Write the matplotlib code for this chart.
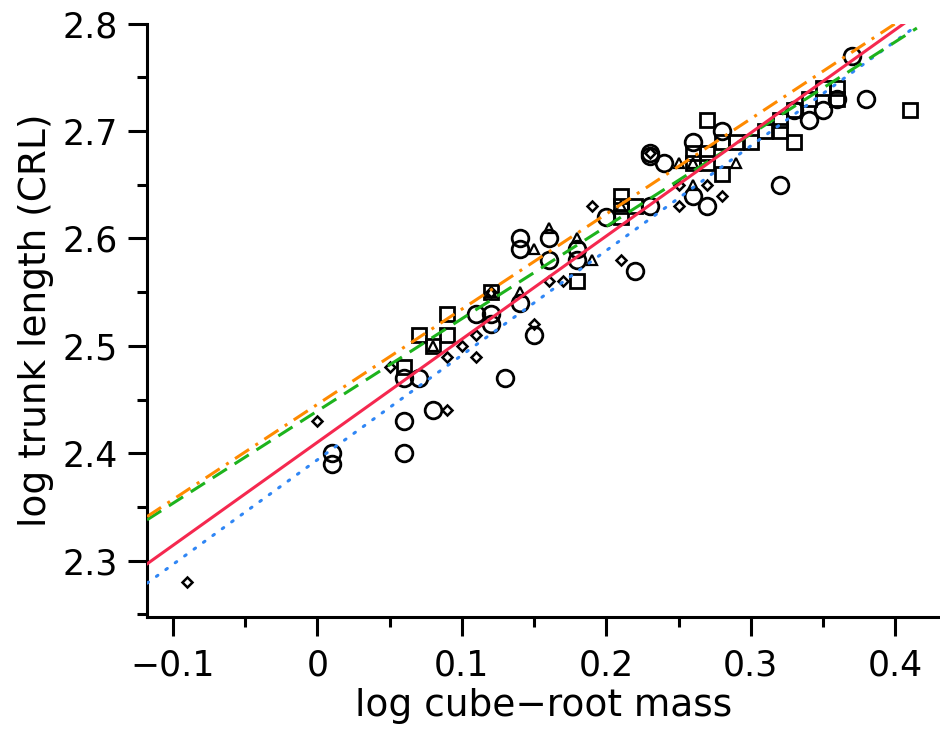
import matplotlib
matplotlib.use("Agg")
import matplotlib.pyplot as plt
import numpy as np
from matplotlib.ticker import MultipleLocator

# ---- data ----
circle_x = [0.01, 0.01, 0.06, 0.06, 0.06, 0.07, 0.08, 0.11, 0.12, 0.12, 0.13, 0.14, 0.15,
            0.14, 0.14, 0.16, 0.16, 0.18, 0.18, 0.20, 0.22, 0.23, 0.23, 0.23, 0.24, 0.26,
            0.26, 0.27, 0.28, 0.32, 0.34, 0.35, 0.36, 0.37, 0.38, 0.33]
circle_y = [2.40, 2.39, 2.40, 2.43, 2.47, 2.47, 2.44, 2.53, 2.53, 2.52, 2.47, 2.54, 2.51,
            2.60, 2.59, 2.60, 2.58, 2.59, 2.58, 2.62, 2.57, 2.63, 2.68, 2.677, 2.67, 2.69,
            2.64, 2.63, 2.70, 2.65, 2.71, 2.72, 2.73, 2.77, 2.73, 2.72]

square_x = [0.06, 0.07, 0.08, 0.09, 0.09, 0.12, 0.18, 0.21, 0.21, 0.21, 0.22, 0.26, 0.26,
            0.27, 0.27, 0.27, 0.28, 0.28, 0.29, 0.30, 0.31, 0.32, 0.32, 0.33, 0.33, 0.34,
            0.35, 0.36, 0.36, 0.41]
square_y = [2.48, 2.51, 2.50, 2.51, 2.53, 2.55, 2.56, 2.64, 2.63, 2.62, 2.63, 2.68, 2.67,
            2.68, 2.67, 2.71, 2.69, 2.66, 2.69, 2.69, 2.70, 2.70, 2.71, 2.69, 2.72, 2.73,
            2.74, 2.74, 2.73, 2.72]

diamond_x = [-0.09, 0.00, 0.05, 0.09, 0.09, 0.10, 0.11, 0.11, 0.12, 0.15, 0.16, 0.17, 0.19,
             0.21, 0.23, 0.25, 0.25, 0.27, 0.28]
diamond_y = [2.28, 2.43, 2.48, 2.44, 2.49, 2.50, 2.49, 2.51, 2.55, 2.52, 2.56, 2.56, 2.63,
             2.58, 2.68, 2.65, 2.63, 2.65, 2.64]

triangle_x = [0.08, 0.12, 0.14, 0.15, 0.16, 0.18, 0.19, 0.21, 0.25, 0.26, 0.26, 0.29]
triangle_y = [2.50, 2.55, 2.55, 2.59, 2.61, 2.60, 2.58, 2.63, 2.67, 2.67, 2.65, 2.67]

# regression lines: intercept at x=0, slope
fit_names = ["blue", "green", "orange", "red"]
fit_intercepts = [2.394, 2.4394, 2.4456, 2.4103]
fit_slopes = [0.974, 0.859, 0.886, 0.960]
fit_colors = ["#2F86F5", "#1DB31D", "#FF8A00", "#F5284F"]
fit_styles = [(0, (0.6, 3.2)), (0, (5.5, 3)), (0, (5.5, 2.5, 1, 2.5)), "-"]
fit_x_range = [-0.118, 0.415]

xticks = [-0.1, 0, 0.1, 0.2, 0.3, 0.4]
xtick_labels = ["\u22120.1", "0", "0.1", "0.2", "0.3", "0.4"]
yticks = [2.3, 2.4, 2.5, 2.6, 2.7, 2.8]
ytick_labels = ["2.3", "2.4", "2.5", "2.6", "2.7", "2.8"]

# ---- figure ----
fig = plt.figure(figsize=(9.4, 7.39), dpi=100)
ax = fig.add_axes([0.1564, 0.1651, 0.8436, 0.968 - 0.1651])

mk = dict(linestyle="none", markerfacecolor="none", markeredgecolor="black", zorder=3)
ax.plot(circle_x, circle_y, marker="o", markersize=12, markeredgewidth=2.0, **mk)
ax.plot(square_x, square_y, marker="s", markersize=9.5, markeredgewidth=2.0, **mk)
ax.plot(diamond_x, diamond_y, marker="D", markersize=5, markeredgewidth=1.8, **mk)
ax.plot(triangle_x, triangle_y, marker="^", markersize=6.5, markeredgewidth=1.6, **mk)

xs = np.array(fit_x_range)
for b, m, c, ls in zip(fit_intercepts, fit_slopes, fit_colors, fit_styles):
    ax.plot(xs, b + m * xs, color=c, linestyle=ls, linewidth=2.2, zorder=4,
            dash_capstyle="round" if c == "#2F86F5" else "butt")

ax.set_xlim(-0.118, 0.431)
ax.set_ylim(2.2476, 2.8)

for s in ["top", "right"]:
    ax.spines[s].set_visible(False)
for s in ["left", "bottom"]:
    ax.spines[s].set_linewidth(2.2)

ax.set_xticks(xticks)
ax.set_xticklabels(xtick_labels)
ax.set_yticks(yticks)
ax.set_yticklabels(ytick_labels)
ax.xaxis.set_minor_locator(MultipleLocator(0.05))
ax.yaxis.set_minor_locator(MultipleLocator(0.05))
ax.tick_params(which="major", direction="out", length=14, width=2.2, labelsize=25, pad=9)
ax.tick_params(which="minor", direction="out", length=7.5, width=2.2)
ax.tick_params(axis="y", which="major", pad=7)

ax.set_xlabel("log cube\u2212root mass", fontsize=27, labelpad=4)
ax.set_ylabel("log trunk length (CRL)", fontsize=27, labelpad=6)

fig.savefig("out.png", dpi=100)
